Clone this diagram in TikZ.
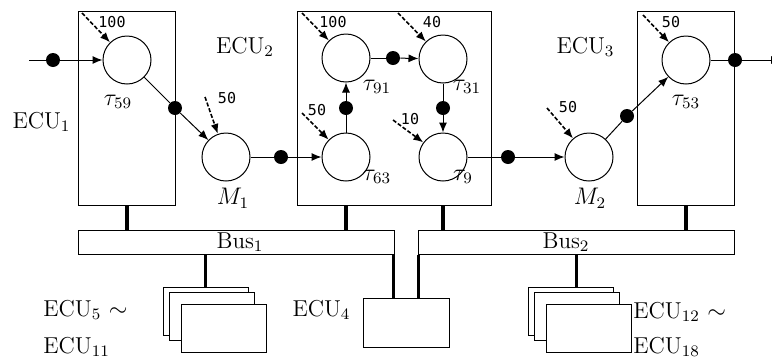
\documentclass[tikz,border=0pt]{standalone}
\usepackage{fontspec}
\newfontfamily\numfont{DejaVu Sans Mono}
\usetikzlibrary{arrows.meta}

\tikzset{
  task/.style={draw,circle,line width=0.5pt,minimum size=24pt,inner sep=0pt,fill=white},
  token/.style={circle,fill=black,minimum size=7pt,inner sep=0pt},
  ecubox/.style={draw,rectangle,line width=0.5pt,inner sep=0pt,minimum width=48.5pt,minimum height=97pt},
  busbox/.style={draw,rectangle,line width=0.5pt,inner sep=0pt,minimum width=158pt,minimum height=12pt},
  slavebox/.style={draw,rectangle,line width=0.5pt,fill=white,inner sep=0pt,minimum width=42.5pt,minimum height=24pt},
  flow/.style={line width=0.5pt},
  flowarr/.style={line width=0.5pt,-{Latex[length=5pt,width=4pt]}},
  release/.style={line width=0.8pt,dash pattern=on 2pt off 1pt,-{Latex[length=5pt,width=4pt]}},
  wire/.style={line width=1.7pt},
  prio/.style={font=\numfont\fontsize{7.5}{9}\selectfont,inner sep=0pt},
  lbl/.style={font=\fontsize{11.5}{14}\selectfont,inner sep=0pt}
}

\begin{document}
\begin{tikzpicture}[x=0.5pt,y=-0.5pt]
  \useasboundingbox (0,0) rectangle (772,360);
  \node[ecubox] (ecuA) at (126.5,108) {};
  \node[ecubox,minimum width=97pt] (ecuB) at (394,108) {};
  \node[ecubox] (ecuC) at (685.5,108) {};
  \node[lbl] (lA) at (41.5,122) {ECU$_1$};
  \node[lbl] (lB) at (245,47) {ECU$_2$};
  \node[lbl] (lC) at (585.5,47) {ECU$_3$};
  \node[busbox] (bus1) at (236,242) {};
  \node[lbl] (lbus1) at (240,242) {Bus$_1$};
  \node[busbox] (bus2) at (576,242) {};
  \node[lbl] (lbus2) at (566,242) {Bus$_2$};
  \node[slavebox,minimum width=43pt,minimum height=24.5pt] (ecuD) at (406,322.5) {};
  \node[lbl] (lD) at (321.5,310) {ECU$_4$};
  \node[slavebox] (sa1) at (205.5,311) {};
  \node[slavebox] (sa2) at (211.5,316.5) {};
  \node[slavebox] (sa3) at (224,328.5) {};
  \node[slavebox] (sb1) at (570.5,311) {};
  \node[slavebox] (sb2) at (576.5,316.5) {};
  \node[slavebox] (sb3) at (589,328.5) {};
  \node[lbl,anchor=west] (lsa) at (43,310) {ECU$_5$ $\sim$};
  \node[lbl,anchor=west] (lsa2) at (43,347) {ECU$_{11}$};
  \node[lbl,anchor=west] (lsb) at (633,312) {ECU$_{12}$ $\sim$};
  \node[lbl,anchor=west] (lsb2) at (633,347) {ECU$_{18}$};
  \node[task] (t59) at (127,60) {};
  \node[task] (m1) at (226,157) {};
  \node[task] (t91) at (346,58) {};
  \node[task] (t31) at (443,59) {};
  \node[task] (t63) at (346,157) {};
  \node[task] (t9) at (443,157) {};
  \node[task] (m2) at (589,157) {};
  \node[task] (t53) at (686,60) {};
  \node[lbl] (n59) at (118,102) {$\tau_{59}$};
  \node[lbl] (nm1) at (233,198) {$M_1$};
  \node[lbl] (n91) at (377,87) {$\tau_{91}$};
  \node[lbl] (n31) at (467,87) {$\tau_{31}$};
  \node[lbl] (n63) at (377,177) {$\tau_{63}$};
  \node[lbl] (n9) at (463,177) {$\tau_{9}$};
  \node[lbl] (nm2) at (590,198) {$M_2$};
  \node[lbl] (n53) at (686,102) {$\tau_{53}$};
  \draw[wire] (t59 |- ecuA.south) -- (t59 |- bus1.north);
  \draw[wire] (t63 |- ecuB.south) -- (t63 |- bus1.north);
  \draw[wire] (t9 |- ecuB.south) -- (t9 |- bus2.north);
  \draw[wire] (t53 |- ecuC.south) -- (t53 |- bus2.north);
  \draw[wire] (bus1.south -| sa1.north) -- (sa1.north);
  \draw[wire] ([xshift=3pt]bus2.south -| sb1.north) -- ([xshift=3pt]sb1.north);
  \draw[wire] ([xshift=-0.4pt]bus1.south east) -- ([xshift=-0.4pt]bus1.south east |- ecuD.north);
  \draw[wire] ([xshift=0.4pt]bus2.south west) -- ([xshift=0.4pt]bus2.south west |- ecuD.north);
  \coordinate (src) at (29,60);
  \coordinate (snk) at (781,60);
  \node[token] (p1) at (53,60) {};
  \node[token] (p2) at (175,108) {};
  \node[token] (p3) at (281,157) {};
  \node[token] (p4) at (346,108) {};
  \node[token] (p5) at (393,58) {};
  \node[token] (p6) at (443,108) {};
  \node[token] (p7) at (508,157) {};
  \node[token] (p8) at (627,116) {};
  \node[token] (p9) at (735,60) {};
  \draw[flow] (src) -- (p1);
  \draw[flowarr] (p1) -- (t59);
  \draw[flow] (t59) -- (p2);
  \draw[flowarr] (p2) -- (m1);
  \draw[flow] (m1) -- (p3);
  \draw[flowarr] (p3) -- (t63);
  \draw[flow] (t63) -- (p4);
  \draw[flowarr] (p4) -- (t91);
  \draw[flow] (t91) -- (p5);
  \draw[flowarr] (p5) -- (t31);
  \draw[flow] (t31) -- (p6);
  \draw[flowarr] (p6) -- (t9);
  \draw[flow] (t9) -- (p7);
  \draw[flowarr] (p7) -- (m2);
  \draw[flow] (m2) -- (p8);
  \draw[flowarr] (p8) -- (t53);
  \draw[flow] (t53) -- (p9);
  \draw[flowarr] (p9) -- (snk);
  \coordinate (r59) at (82,13);
  \coordinate (rm1) at (205,97);
  \coordinate (r91) at (302,13);
  \coordinate (r31) at (398,13);
  \coordinate (r63) at (302,113);
  \coordinate (r9) at (393,120);
  \coordinate (rm2) at (547,108);
  \coordinate (r53) at (643,15);
  \draw[release] (r59) -- (t59);
  \draw[release] (rm1) -- (m1);
  \draw[release] (r91) -- (t91);
  \draw[release] (r31) -- (t31);
  \draw[release] (r63) -- (t63);
  \draw[release] (r9) -- (t9);
  \draw[release] (rm2) -- (m2);
  \draw[release] (r53) -- (t53);
  \node[prio] (w59) at (112,22) {100};
  \node[prio] (wm1) at (227,98) {50};
  \node[prio] (w91) at (333,22) {100};
  \node[prio] (w31) at (432,22) {40};
  \node[prio] (w63) at (317,110) {50};
  \node[prio] (w9) at (410,119) {10};
  \node[prio] (wm2) at (568,107) {50};
  \node[prio] (w53) at (671,22) {50};
\end{tikzpicture}
\end{document}
